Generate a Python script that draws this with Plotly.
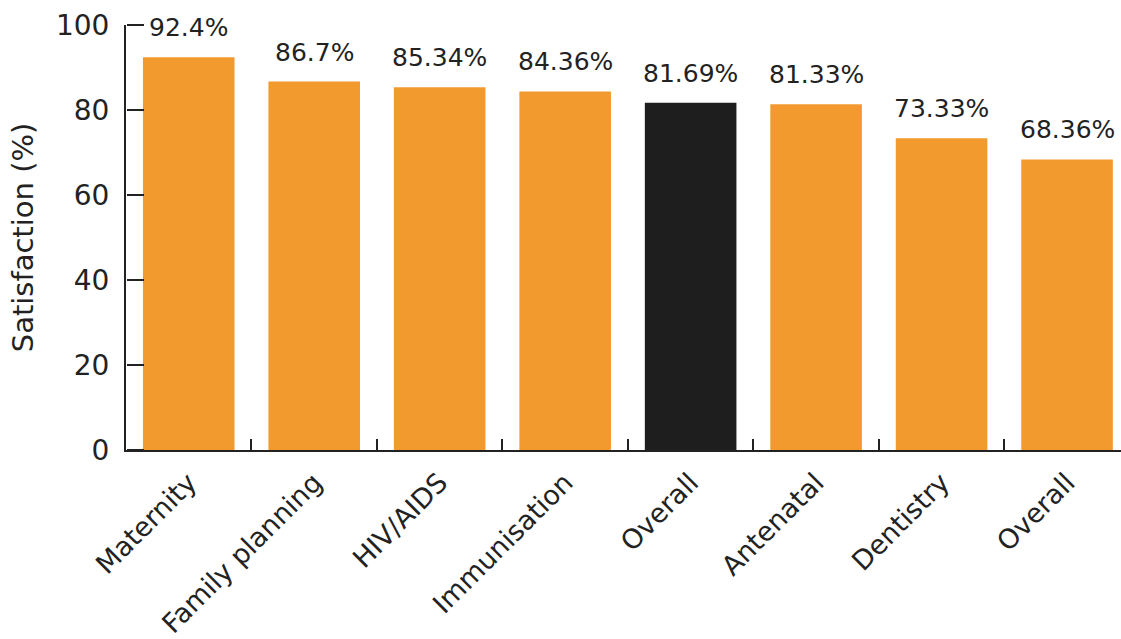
import plotly.graph_objects as go

categories = ["Maternity", "Family planning", "HIV/AIDS", "Immunisation",
              "Overall", "Antenatal", "Dentistry", "Overall"]
values = [92.4, 86.7, 85.34, 84.36, 81.69, 81.33, 73.33, 68.36]
labels = ["92.4%", "86.7%", "85.34%", "84.36%", "81.69%", "81.33%", "73.33%", "68.36%"]
highlight = [False, False, False, False, True, False, False, False]
y_ticks = [0, 20, 40, 60, 80, 100]

ORANGE = "#F39A2E"
BLACK = "#1E1E1E"
TXT = "#222222"
FONT = "DejaVu Sans"

x = list(range(len(categories)))
boundaries = [i + 0.5 for i in x[:-1]]
colors = [BLACK if h else ORANGE for h in highlight]
x_range = [-0.5, 7.43]
y_range = [0, 100]

fig = go.Figure()
fig.add_trace(go.Bar(x=x, y=values, marker=dict(color=colors, line=dict(width=0)),
                     width=0.73, hoverinfo="skip"))
# empty trace to anchor the overlay axes that carry the tick marks
fig.add_trace(go.Scatter(x=[None], y=[None], xaxis="x2", yaxis="y2",
                         mode="markers", hoverinfo="skip"))

for xi, v, t in zip(x, values, labels):
    fig.add_annotation(x=xi, y=v, text=t, showarrow=False, yanchor="bottom",
                       yshift=13, font=dict(family=FONT, size=25, color=TXT))

fig.update_layout(
    width=1121, height=639,
    margin=dict(l=126, r=0, t=25, b=189),
    paper_bgcolor="white", plot_bgcolor="white",
    showlegend=False,
    font=dict(family=FONT, color=TXT),
    xaxis=dict(
        tickmode="array", tickvals=x, ticktext=categories,
        range=x_range, tickangle=-45, ticks="",
        showline=True, linecolor=TXT, linewidth=2,
        showgrid=False, zeroline=False, automargin=False,
        tickfont=dict(family=FONT, size=27, color=TXT),
        ticklabelstandoff=4,
    ),
    xaxis2=dict(
        overlaying="x", anchor="y2", side="bottom", range=x_range,
        tickmode="array", tickvals=boundaries, showticklabels=False,
        ticks="inside", ticklen=11, tickwidth=2, tickcolor=TXT,
        showline=False, showgrid=False, zeroline=False, automargin=False,
    ),
    yaxis=dict(
        range=y_range, tickmode="array", tickvals=y_ticks, ticks="",
        showline=True, linecolor=TXT, linewidth=2,
        showgrid=False, zeroline=False, automargin=False,
        tickfont=dict(family=FONT, size=28, color=TXT),
        ticklabelstandoff=9,
        title=dict(text="Satisfaction (%)", font=dict(family=FONT, size=29, color=TXT), standoff=14),
    ),
    yaxis2=dict(
        overlaying="y", anchor="free", position=0, side="right", range=y_range,
        tickmode="array", tickvals=y_ticks, showticklabels=False,
        ticks="outside", ticklen=17, tickwidth=2, tickcolor=TXT,
        showline=False, showgrid=False, zeroline=False, automargin=False,
    ),
)

fig.write_html("out.html")
